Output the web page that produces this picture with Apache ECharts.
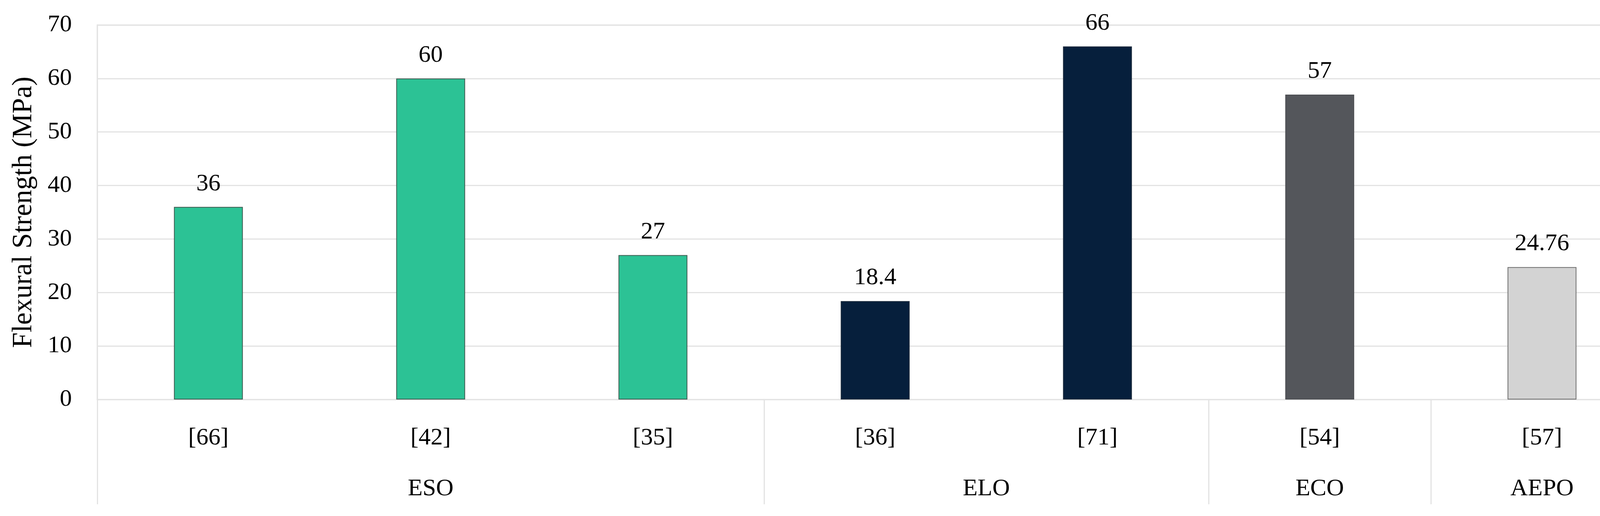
<!DOCTYPE html>
<html>
<head>
<meta charset="utf-8">
<script src="https://cdn.jsdelivr.net/npm/echarts@6/dist/echarts.min.js"></script>
<style>
html,body{margin:0;padding:0;background:#fff;}
#chart{width:4248px;height:1320px;}
</style>
</head>
<body>
<div id="chart"></div>
<script>
// ---- data ----
const categories = ['[66]', '[42]', '[35]', '[36]', '[71]', '[54]', '[57]'];
const values = [36, 60, 27, 18.4, 66, 57, 24.76];
const groups = ['ESO', 'ESO', 'ESO', 'ELO', 'ELO', 'ECO', 'AEPO'];
const groupNames = ['ESO', 'ELO', 'ECO', 'AEPO'];
const groupColors = ['#2CC295', '#061F3C', '#54565B', '#D3D3D3'];
const groupBorders = ['#3E5A50', '#1A2A3C', '#4A4C50', '#6E6E6E'];
const yTicks = [0, 10, 20, 30, 40, 50, 60, 70];
const yTitle = 'Flexural Strength (MPa)';

// ---- derived group spans ----
const spans = [];
groups.forEach((g, i) => {
  const last = spans[spans.length - 1];
  if (last && last.name === g) last.end = i + 1;
  else spans.push({ name: g, start: i, end: i + 1 });
});
const sepValues = [0].concat(spans.map(s => s.end));
const groupLabelValues = spans.map(s => (s.start + s.end) / 2);
const labelMap = {};
spans.forEach(s => { labelMap[(s.start + s.end) / 2] = s.name; });

const FONT = '"Liberation Serif", "Times New Roman", serif';
const GRID = '#E3E3E3';
const FS = 62;

const chart = echarts.init(document.getElementById('chart'), null, { renderer: 'canvas' });
chart.setOption({
  animation: false,
  backgroundColor: '#ffffff',
  textStyle: { fontFamily: FONT, color: '#000' },
  grid: {
    left: 249, right: 16, top: 64, bottom: 298,
    show: true, borderColor: GRID, borderWidth: 3, backgroundColor: 'transparent'
  },
  xAxis: [
    {
      type: 'category',
      data: categories,
      axisLine: { show: true, lineStyle: { color: GRID, width: 3 } },
      axisTick: { show: false },
      splitLine: { show: false },
      axisLabel: { fontFamily: FONT, fontSize: FS, color: '#000', margin: 68, interval: 0 }
    },
    {
      type: 'value',
      min: 0, max: categories.length,
      position: 'bottom',
      axisLine: { show: false },
      splitLine: { show: false },
      axisTick: {
        show: true, customValues: sepValues, length: 268, inside: false,
        lineStyle: { color: GRID, width: 3 }
      },
      axisLabel: {
        customValues: groupLabelValues,
        formatter: v => labelMap[v] || '',
        fontFamily: FONT, fontSize: FS, color: '#000', margin: 198
      }
    }
  ],
  yAxis: {
    type: 'value',
    min: 0, max: 70, interval: 10,
    axisLine: { show: true, lineStyle: { color: GRID, width: 3 } },
    axisTick: { show: false },
    splitLine: { show: true, lineStyle: { color: GRID, width: 3 } },
    axisLabel: {
      fontFamily: FONT, fontSize: FS, color: '#000', margin: 65,
      customValues: yTicks
    },
    name: yTitle,
    nameLocation: 'middle',
    nameRotate: 90,
    nameGap: 152,
    nameTextStyle: { fontFamily: FONT, fontSize: 71, color: '#000' }
  },
  series: [{
    type: 'bar',
    xAxisIndex: 0,
    barWidth: '31%',
    data: values.map((v, i) => {
      const gi = groupNames.indexOf(groups[i]);
      return {
        value: v,
        itemStyle: { color: groupColors[gi], borderColor: groupBorders[gi], borderWidth: 2 }
      };
    }),
    label: {
      show: true, position: 'top', distance: 28,
      fontFamily: FONT, fontSize: FS, color: '#000',
      formatter: p => String(p.value)
    }
  }]
});
</script>
</body>
</html>
